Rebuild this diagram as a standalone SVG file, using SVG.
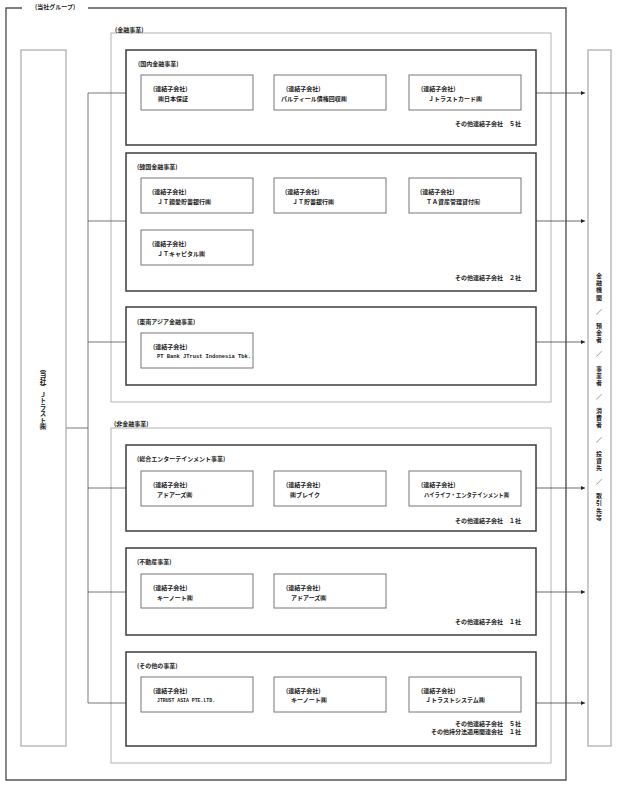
<svg xmlns="http://www.w3.org/2000/svg" width="620" height="794" viewBox="0 0 620 794">
<defs>
<style>
text{font-family:"Noto Sans CJK JP","Liberation Sans",sans-serif;font-size:6px;font-weight:bold;fill:#1a1a1a;}
.lat{font-family:"Liberation Mono",monospace;font-size:5.5px;font-weight:bold;}
.vert{writing-mode:vertical-rl;}
.outer{fill:none;stroke:#555;stroke-width:1.4;}
.grp{fill:none;stroke:#b4b4b4;stroke-width:1;}
.seg{fill:#fff;stroke:#3c3c3c;stroke-width:1.5;}
.node{fill:#fff;stroke:#777;stroke-width:1;}
.side{fill:#fff;stroke:#a8a8a8;stroke-width:1.2;}
.conn{fill:none;stroke:#555;stroke-width:0.8;}
.arr{fill:none;stroke:#444;stroke-width:0.8;marker-end:url(#ah);}
.end{text-anchor:end;}
</style>
<marker id="ah" viewBox="0 0 6 6" refX="6" refY="3" markerWidth="4" markerHeight="4" orient="auto" markerUnits="userSpaceOnUse">
<path d="M0,0 L6,3 L0,6 Z" fill="#222"/>
</marker>
</defs>
<rect width="620" height="794" fill="#fff"/>

<g id="group-frame">
<path class="outer" d="M22,8 H6 V780 H566 V8 H88"/>
<text x="35" y="8.5">(当社グループ)</text>
</g>

<g id="fin-group">
<rect class="grp" x="111" y="33" width="440" height="369"/>
<text x="115" y="31.5">(金融事業)</text>
</g>
<g id="nonfin-group">
<rect class="grp" x="111" y="428" width="440" height="335"/>
<text x="114" y="426">(非金融事業)</text>
</g>

<g id="connectors">
<path class="conn" d="M88,93 V703 M66,428 H88 M88,93 H126 M88,221 H126 M88,342 H126 M88,488 H126 M88,592 H126 M88,703 H126"/>
<path class="arr" d="M536,93 H585"/>
<path class="arr" d="M536,221 H585"/>
<path class="arr" d="M536,342 H585"/>
<path class="arr" d="M536,488 H585"/>
<path class="arr" d="M536,592 H585"/>
<path class="arr" d="M536,703 H585"/>
</g>

<g id="jtrust">
<rect class="side" x="21" y="50" width="45" height="696"/>
<text class="vert" x="43" y="365" style="font-size:6.5px">（当社）Ｊトラスト㈱</text>
</g>

<g id="customers">
<rect class="side" x="588" y="50" width="23" height="696"/>
<text class="vert" x="599" y="273" style="letter-spacing:1.1px">金融機関　／　預金者　／　事業者　／　消費者　／　投資先　／　取引先等</text>
</g>

<g id="domestic">
<rect class="seg" x="126" y="50" width="410" height="95"/>
<text x="138" y="66">(国内金融事業)</text>
<text class="end" x="521" y="126">その他連結子会社　５社</text>
</g>
<g id="n-nihonhosho"><rect class="node" x="141" y="75" width="112" height="35"/><text x="153" y="90.5">(連結子会社)</text><text x="158" y="100.5">㈱日本保証</text></g>
<g id="n-partir"><rect class="node" x="274" y="75" width="112" height="35"/><text x="286" y="90.5">(連結子会社)</text><text x="281" y="100.5">パルティール債権回収㈱</text></g>
<g id="n-jtcard"><rect class="node" x="409" y="75" width="112" height="35"/><text x="421" y="90.5">(連結子会社)</text><text x="428" y="100.5">Ｊトラストカード㈱</text></g>

<g id="korea">
<rect class="seg" x="126" y="153" width="410" height="138"/>
<text x="137" y="169">(韓国金融事業)</text>
<text class="end" x="521" y="280">その他連結子会社　２社</text>
</g>
<g id="n-jtchinae"><rect class="node" x="141" y="178" width="112" height="35"/><text x="152" y="193.5">(連結子会社)</text><text x="157" y="203.5">ＪＴ親愛貯蓄銀行㈱</text></g>
<g id="n-jtsavings"><rect class="node" x="274" y="178" width="112" height="35"/><text x="285" y="193.5">(連結子会社)</text><text x="292" y="203.5">ＪＴ貯蓄銀行㈱</text></g>
<g id="n-ta"><rect class="node" x="409" y="178" width="112" height="35"/><text x="420" y="193.5">(連結子会社)</text><text x="426" y="203.5">ＴＡ資産管理貸付㈲</text></g>
<g id="n-jtcapital"><rect class="node" x="141" y="230" width="112" height="35"/><text x="152" y="245.5">(連結子会社)</text><text x="157" y="255.5">ＪＴキャピタル㈱</text></g>

<g id="seasia">
<rect class="seg" x="126" y="307" width="410" height="78"/>
<text x="137" y="324">(東南アジア金融事業)</text>
</g>
<g id="n-ptbank"><rect class="node" x="141" y="333" width="112" height="35"/><text x="153" y="348.5">(連結子会社)</text><text class="lat" x="157" y="357.5" textLength="94" lengthAdjust="spacingAndGlyphs">PT Bank JTrust Indonesia Tbk.</text></g>

<g id="entertainment">
<rect class="seg" x="126" y="445" width="410" height="86"/>
<text x="137" y="461">(総合エンターテインメント事業)</text>
<text class="end" x="521" y="523">その他連結子会社　１社</text>
</g>
<g id="n-adores1"><rect class="node" x="141" y="471" width="112" height="35"/><text x="153" y="486.5">(連結子会社)</text><text x="157" y="496.5">アドアーズ㈱</text></g>
<g id="n-break"><rect class="node" x="274" y="471" width="112" height="35"/><text x="286" y="486.5">(連結子会社)</text><text x="290" y="496.5">㈱ブレイク</text></g>
<g id="n-highlife"><rect class="node" x="409" y="471" width="112" height="35"/><text x="421" y="486.5">(連結子会社)</text><text x="424" y="496.5" textLength="85" lengthAdjust="spacingAndGlyphs">ハイライフ・エンタテインメント㈱</text></g>

<g id="realestate">
<rect class="seg" x="126" y="548" width="410" height="87"/>
<text x="137" y="564">(不動産事業)</text>
<text class="end" x="521" y="624">その他連結子会社　１社</text>
</g>
<g id="n-keynote1"><rect class="node" x="141" y="574" width="112" height="34"/><text x="153" y="589.5">(連結子会社)</text><text x="157" y="599.5">キーノート㈱</text></g>
<g id="n-adores2"><rect class="node" x="274" y="574" width="112" height="34"/><text x="286" y="589.5">(連結子会社)</text><text x="291" y="599.5">アドアーズ㈱</text></g>

<g id="other">
<rect class="seg" x="126" y="652" width="410" height="94"/>
<text x="137" y="668">(その他の事業)</text>
<text class="end" x="521" y="726">その他連結子会社　５社</text>
<text class="end" x="521" y="734">その他持分法適用関連会社　１社</text>
</g>
<g id="n-jtasia"><rect class="node" x="141" y="677" width="112" height="35"/><text x="153" y="692.5">(連結子会社)</text><text class="lat" x="157" y="701.5" textLength="58" lengthAdjust="spacingAndGlyphs">JTRUST ASIA PTE.LTD.</text></g>
<g id="n-keynote2"><rect class="node" x="274" y="677" width="112" height="35"/><text x="286" y="692.5">(連結子会社)</text><text x="291" y="701.5">キーノート㈱</text></g>
<g id="n-jtsystem"><rect class="node" x="409" y="677" width="112" height="35"/><text x="421" y="692.5">(連結子会社)</text><text x="425" y="701.5">Ｊトラストシステム㈱</text></g>
</svg>
